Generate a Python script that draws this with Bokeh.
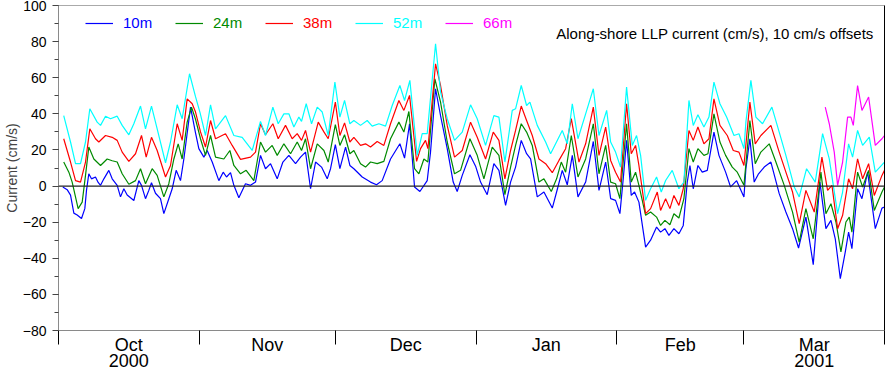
from datetime import date
from bokeh.plotting import figure
from bokeh.models import (Range1d, FixedTicker, SingleIntervalTicker, LinearAxis, Span,
                          Legend, LegendItem, Label)
from bokeh.embed import file_html
from bokeh.resources import INLINE

FONT = "Liberation Sans"

# x = days since 1 Oct 2000; values in cm/s (already including the 10 cm/s offsets)
day10 = [0.95, 1.91, 2.65, 3.38, 4.11, 5.07, 5.8, 6.17, 6.68, 7.27,
         8.15, 8.74, 9.26, 10.0, 11.09, 11.83, 12.93, 13.66, 14.4, 15.13,
         16.6, 17.7, 18.29, 19.17, 19.9, 20.49, 21.37, 22.47, 23.21, 24.31,
         25.05, 25.93, 26.88, 27.62, 29.09, 30.19, 30.92, 32.03, 32.76, 33.87,
         35.33, 36.29, 37.02, 37.9, 38.64, 39.74, 41.2, 42.31, 43.41, 44.51,
         45.61, 46.72, 48.19, 49.44, 50.76, 52.23, 53.33, 54.43, 55.54, 56.64,
         57.96, 59.21, 59.94, 61.0, 62.0, 63.25, 64.2, 65.08, 66.92, 68.75,
         70.07, 71.32, 73.16, 75.22, 76.25, 77.35, 78.45, 79.63, 81.24, 81.97,
         83.08, 84.18, 85.65, 86.97, 87.85, 88.96, 90.65, 91.9, 93.0, 94.46,
         95.93, 97.04, 98.51, 99.61, 100.71, 101.96, 103.14, 104.02, 105.49, 106.96,
         108.8, 109.75, 111.0, 112.1, 113.21, 114.46, 116.15, 117.84, 119.09, 120.56,
         121.66, 122.74, 123.7, 124.43, 125.17, 126.2, 126.93, 127.89, 129.36, 130.46,
         131.78, 132.66, 133.62, 134.5, 135.6, 136.7, 137.66, 138.54, 139.13, 139.86,
         140.89, 141.84, 142.95, 144.42, 145.52, 146.99, 148.09, 149.42, 151.03, 151.46,
         152.34, 153.29, 154.25, 155.5, 156.97, 158.8, 160.27, 161.74, 163.06, 164.68,
         166.3, 167.77, 169.09, 170.2, 171.15, 172.26, 173.36, 174.09, 174.82, 176.07,
         177.03, 178.28, 179.97, 181.44, 182.0]
cur10 = [-0.5, -2, -5, -15, -16, -18, -12.5, -2.4, 6.8, 4,
         5, 2, 0.4, 4, 8.7, 4, 0.4, -6, -1.5, -5,
         -8, 3, 0.4, -7, -2.4, 1.8, -4, -7, -15.3, -7,
         -1.5, 8.7, 3, 15, 43.7, 29.5, 20.7, 16, 19.7, 13.3,
         3, 7.7, 5, 7.4, 0.4, -6.5, 1.3, 0.4, 2.2, 17,
         9.6, 12.4, 4, 13.3, 17, 12.4, 16, 18.8, -1.5, 13.3,
         10.5, 4, 9.6, 22.9, 9.6, 21.6, 11.4, 9.6, 5, 2.2,
         0.7, 3, 15, 23.4, 15.5, 34.5, -0.5, -3, 3, 18.8,
         53.9, 39, 20.7, 2.2, -3, 5.9, 17.3, 11, 2.2, -4.8,
         12.4, 8.7, -10.7, 2.2, 10.5, 25.3, 17.9, 15, -6, -3.3,
         -12.2, -3.3, 8.7, 0.7, 17, -6, 2.2, 24.7, -2.4, 13.3,
         -7, -7.9, -15.3, 4, 25.3, -5.2, -3.3, -8.9, -33.8, -30,
         -22.7, -25.5, -23.6, -27.3, -23.6, -26.4, -21.8, 2.2, 11.4, -1.5,
         11.4, 7.7, 8.7, 29.9, 17, 7.7, -0.5, 3, -6, 9.6,
         26.2, 2.2, 6.8, 10.5, 13.3, -4.2, -14.4, -23.6, -34.3, -17.2,
         -43.5, 2.2, -23.6, -19, -29.2, -51.3, -36.5, -25.5, -34.7, -1.5,
         -7, 7.7, -23.6, -12.2, -11.6]

day24 = [1.15, 2.28, 3.01, 4.33, 5.22, 5.95, 6.68, 7.79, 9.26, 10.72,
         11.83, 12.93, 14.03, 15.5, 16.97, 18.07, 19.17, 20.64, 21.74, 23.21,
         24.31, 25.42, 26.37, 27.25, 28.35, 29.31, 30.19, 31.29, 32.39, 33.5,
         34.6, 36.44, 37.76, 38.64, 40.11, 41.35, 43.04, 44.51, 45.61, 47.08,
         48.19, 49.66, 51.13, 52.6, 53.55, 54.43, 55.54, 57.01, 58.48, 59.43,
         61.0, 62.0, 63.03, 64.2, 65.08, 66.55, 67.65, 68.75, 70.22, 71.69,
         73.16, 75.0, 76.1, 77.2, 78.45, 79.41, 80.51, 81.39, 82.93, 84.18,
         85.65, 87.26, 88.59, 90.65, 92.26, 93.73, 95.57, 97.04, 98.36, 99.61,
         100.71, 101.96, 103.14, 104.39, 105.86, 106.96, 108.58, 109.75, 110.78, 111.74,
         112.99, 114.46, 116.15, 117.84, 119.09, 120.56, 121.66, 122.74, 123.7, 125.17,
         126.2, 127.15, 127.89, 129.36, 130.46, 131.78, 132.66, 133.62, 134.72, 135.6,
         136.7, 137.8, 138.91, 139.86, 140.89, 142.21, 143.1, 144.42, 145.74, 146.99,
         148.46, 149.56, 151.03, 152.34, 153.52, 154.76, 156.6, 158.07, 159.91, 161.74,
         163.21, 164.68, 166.3, 167.99, 169.09, 170.2, 171.3, 172.4, 173.5, 174.24,
         174.82, 176.07, 177.18, 178.5, 179.75, 181.44, 182.0]
cur24 = [13.3, 7.7, 2.2, -12.5, -8.9, 5.9, 21.6, 15, 11.4, 15,
         14, 13.3, 6.8, 1, 3, 9.6, 1.3, 9.6, 5.9, -6,
         1.3, 15, 23.4, 15, 35.4, 43.7, 37, 26.2, 17, 28,
         16, 15, 19.7, 11.4, 6.8, 8.7, 3, 24.4, 18.8, 22.5,
         17, 23.4, 17.9, 24.4, 19.7, 26.2, 9.6, 23.4, 19.7, 13.3,
         34, 22.5, 28.4, 17.9, 19.7, 12.4, 10.5, 13.3, 12.4, 13.7,
         26.2, 35.4, 29.9, 41.3, 9.6, 6.8, 15, 13.3, 59.4, 46.5,
         24.4, 6.8, 8.7, 26.2, 17, 4, 21.6, 17, -4.8, 10.5,
         22.5, 34.5, 29.9, 22.5, 2.2, 4, -3, 4, 13.3, 7.7,
         28, 5, 15, 34.5, 6.8, 22.5, 2.2, 1.3, -7, 34.5,
         2.2, 7.7, 0.4, -16.2, -14.4, -17.2, -21.8, -19, -21.4, -15.3,
         -17.7, -7, 20.7, 13.3, 20.7, 17, 17.9, 40, 24.4, 17,
         10.5, 7.7, 0.4, 36.3, 12.4, 18.8, 23.4, 13.3, 0.4, -14.4,
         -31, -12.5, -29.2, 7.7, -15.3, -9.8, -19.9, -36.5, -19.9, -17.2,
         -25.5, 7.7, -0.5, 8.7, -13.5, -3.3, -0.5]

day38 = [1.15, 2.65, 3.75, 4.85, 5.95, 6.9, 8.15, 8.89, 10.36, 11.83,
         12.93, 14.03, 15.5, 16.97, 18.29, 19.32, 20.49, 21.74, 23.58, 24.68,
         26.15, 27.25, 28.35, 29.46, 30.19, 31.29, 32.39, 33.5, 34.6, 36.8,
         38.27, 40.11, 42.31, 43.41, 44.51, 45.61, 47.23, 48.41, 50.02, 51.49,
         52.6, 53.55, 54.43, 55.54, 57.23, 58.48, 59.43, 61.0, 62.0, 63.03,
         64.2, 65.08, 66.55, 67.65, 68.75, 70.22, 71.69, 73.16, 75.0, 76.1,
         77.35, 78.9, 79.77, 80.87, 81.39, 83.08, 84.18, 85.65, 87.26, 88.96,
         90.79, 92.26, 94.1, 95.79, 97.04, 98.36, 99.61, 100.71, 101.96, 103.14,
         104.39, 105.86, 107.33, 108.8, 110.27, 111.74, 112.99, 114.68, 116.15, 117.84,
         119.09, 120.56, 121.66, 122.74, 123.84, 125.17, 126.2, 127.15, 127.89, 129.36,
         130.46, 131.93, 132.66, 133.77, 134.72, 135.6, 136.7, 137.66, 138.91, 139.86,
         140.89, 142.21, 143.32, 144.42, 145.74, 147.36, 148.68, 149.93, 151.03, 152.34,
         153.52, 154.76, 156.97, 158.8, 160.27, 161.74, 163.21, 164.68, 166.52, 168.21,
         169.46, 170.42, 171.67, 172.77, 174.09, 174.97, 176.07, 177.18, 178.5, 179.75,
         181.44, 182.0]
cur38 = [26.2, 13.3, 3, 2.2, 13.3, 31.7, 26.2, 24.4, 28, 27,
         25.3, 18.8, 13.7, 17.9, 28, 16, 27, 19.7, 5, 11.4,
         34.5, 25.3, 48.3, 45.6, 41, 30, 21.6, 36.3, 26.2, 29,
         22.5, 14.8, 16, 18.8, 34.5, 28.4, 34.5, 26.2, 33.6, 26.2,
         29, 25.3, 30.8, 18.8, 35.4, 30, 26.2, 46.5, 28, 35,
         24.4, 27, 22.5, 23.4, 21.6, 24.7, 22.5, 34.5, 47.4, 41.9,
         50.2, 13.7, 20.7, 25.3, 20.7, 67.7, 55.7, 33.6, 16, 19.7,
         35.4, 27, 15, 29.9, 25.3, 4, 19.7, 30.8, 44.3, 36.3,
         28, 15, 12.4, 7.4, 14.2, 20.7, 37.3, 13.3, 23.4, 43.7,
         17, 32.7, 14.2, 7.7, 2.2, 45.6, 17.9, 22.5, 11.4, -15.3,
         -12.5, -3.3, -13.5, -7, -12.5, -5.2, -10.7, -1.5, 30.8, 25.3,
         32.7, 23.4, 26.2, 48.3, 33.6, 28, 19.7, 18.8, 11.4, 46.5,
         23.4, 28, 33.6, 18.8, 7.7, -3.3, -20.8, -2.4, -14.4, 16,
         -2.4, 0.4, -23.6, -16.2, 4, -1.5, 15.1, 4, 12.4, -5.2,
         5.9, 8.7]

day52 = [1.15, 2.65, 3.75, 4.85, 5.95, 6.9, 8.52, 9.26, 10.36, 11.46,
         12.93, 14.03, 15.5, 16.6, 18.07, 19.17, 20.49, 21.74, 23.58, 24.68,
         26.15, 27.25, 28.87, 30.19, 31.2, 32.39, 33.5, 34.6, 36.8, 38.64,
         40.47, 42.67, 44.51, 45.61, 47.23, 48.41, 49.66, 50.76, 51.86, 52.96,
         53.55, 54.58, 55.76, 57.01, 58.11, 59.43, 60.9, 62.0, 63.03, 64.2,
         65.08, 66.55, 68.02, 69.12, 70.59, 72.06, 73.53, 75.22, 76.25, 77.42,
         79.04, 80.14, 81.24, 83.08, 84.18, 85.65, 87.26, 88.96, 90.79, 92.26,
         94.1, 95.93, 97.04, 98.36, 99.98, 100.71, 101.96, 103.14, 103.87, 105.49,
         107.33, 108.43, 111.0, 112.1, 113.21, 114.46, 116.15, 117.84, 119.09, 120.78,
         121.66, 122.74, 123.84, 125.17, 126.42, 127.37, 128.26, 129.36, 130.46, 131.78,
         132.81, 133.77, 135.23, 136.7, 137.8, 138.91, 139.86, 140.89, 142.21, 143.32,
         144.42, 145.74, 147.21, 148.83, 149.93, 151.03, 151.46, 152.56, 153.66, 155.13,
         157.19, 158.8, 160.27, 162.11, 163.21, 164.83, 166.74, 168.36, 169.83, 171.67,
         172.77, 174.09, 174.97, 176.07, 177.18, 178.65, 179.97, 182.0]
cur52 = [39, 24.4, 12.4, 12.4, 24.4, 42.8, 35.4, 33.6, 38.7, 37.3,
         38.7, 33.6, 28.4, 34.5, 44.3, 31.7, 44.3, 31.7, 12.9, 24.4,
         45, 37.3, 62.2, 49.5, 40.5, 28, 45, 31.7, 39, 28,
         27, 19.7, 35.8, 28, 43.7, 34.5, 40, 40, 32.7, 38.2,
         35.8, 45.6, 34.5, 43.7, 41, 28, 57.6, 38.2, 47.4, 34.5,
         36.3, 33.6, 36.3, 33.2, 34.5, 33.2, 44.6, 55.7, 47.4, 58.5,
         17, 29, 29, 78.8, 52, 37.3, 25.3, 29.9, 45, 37.3,
         22.5, 39, 38.2, 13.3, 41.9, 42.8, 55.7, 44.6, 46.5, 33.6,
         24.4, 17.9, 30.8, 23.4, 45.6, 26.2, 40, 53.9, 28, 41.9,
         24.4, 18.8, 10.5, 54.8, 22.5, 28, 17, -7.9, -1.5, 5,
         -3.3, 3.1, 8.7, -1.5, 2.2, 47.4, 33.6, 39.5, 32.7, 38.2,
         57.6, 45.6, 38.2, 28, 29, 20.7, 35.4, 58.5, 38.2, 34.5,
         43.7, 29.9, 17, -0.5, -6, 9.6, 2.2, 29, 15.1, -15.3,
         -3.3, 23.4, 16, 30.8, 22.5, 27.1, 7.7, 13.3]

day66 = [168.95, 169.83, 170.93, 171.67, 172.77, 173.87, 174.6, 175.12, 176.07, 177.03,
         178.5, 179.97, 181.44, 182.0]
cur66 = [43.7, 34.5, 18.8, 0.4, 13.3, 38.2, 38.2, 33.6, 55.7, 41.9,
         49.3, 22.5, 26.2, 28]

series_names = ["10m", "24m", "38m", "52m", "66m"]
series_colors = ["#0000ff", "#008a00", "#ff0000", "#00ffff", "#ff00ff"]
series_days = [day10, day24, day38, day52, day66]
series_vals = [cur10, cur24, cur38, cur52, cur66]

start = date(2000, 10, 1)
month_firsts = [date(2000, 10, 1), date(2000, 11, 1), date(2000, 12, 1), date(2001, 1, 1),
                date(2001, 2, 1), date(2001, 3, 1), date(2001, 4, 1)]
month_labels = ["Oct", "Nov", "Dec", "Jan", "Feb", "Mar"]
year_labels = {0: "2000", 5: "2001"}   # month index -> year printed below it
month_edges = [(d - start).days for d in month_firsts]
month_mids = [(a + b) / 2.0 for a, b in zip(month_edges[:-1], month_edges[1:])]

title_text = "Along-shore LLP current (cm/s), 10 cm/s offsets"

Y0, Y1 = -80, 100
FRAME_H = 372 - 5 - 42

p = figure(width=885, height=372,
           x_range=Range1d(month_edges[0], month_edges[-1]), y_range=Range1d(Y0, Y1),
           output_backend="svg", toolbar_location=None,
           min_border_left=58, min_border_right=1, min_border_top=5, min_border_bottom=42,
           outline_line_color=None, background_fill_color="white", border_fill_color="white")
p.xgrid.visible = False
p.ygrid.visible = False

xa = p.xaxis[0]
xa.ticker = FixedTicker(ticks=month_mids, minor_ticks=month_edges)
xa.major_label_overrides = {m: lab for m, lab in zip(month_mids, month_labels)}
xa.major_tick_out = 0
xa.major_tick_in = 0
xa.minor_tick_out = 14
xa.minor_tick_in = 0
xa.minor_tick_line_color = "black"
xa.axis_line_color = "#8a8a8a"
xa.major_label_standoff = -10
xa.major_label_text_font = FONT
xa.major_label_text_font_size = "18px"
xa.major_label_text_color = "black"

# second row of x labels: the years under Oct and Mar
year_ticks = [month_mids[i] for i in year_labels]
year_ax = LinearAxis(ticker=FixedTicker(ticks=year_ticks, minor_ticks=[]),
                     major_label_overrides={month_mids[i]: yr for i, yr in year_labels.items()},
                     axis_line_color=None, major_tick_out=0, major_tick_in=0,
                     minor_tick_out=0, minor_tick_in=0, major_label_standoff=-4,
                     major_label_text_font=FONT, major_label_text_font_size="18px",
                     major_label_text_color="black")
p.add_layout(year_ax, "below")

ya = p.yaxis[0]
ya.ticker = SingleIntervalTicker(interval=20, num_minor_ticks=2)
ya.axis_label = "Current (cm/s)"
ya.axis_label_text_font = FONT
ya.axis_label_text_font_style = "normal"
ya.axis_label_text_font_size = "14px"
ya.axis_label_standoff = 0
ya.major_label_text_font = FONT
ya.major_label_text_font_size = "14px"
ya.major_label_text_color = "black"
ya.major_label_standoff = 6
ya.major_tick_out = 6
ya.major_tick_in = 0
ya.minor_tick_out = 4
ya.minor_tick_in = 0
ya.major_tick_line_color = "#444444"
ya.minor_tick_line_color = "#444444"
ya.axis_line_color = "#8a8a8a"

right_ax = LinearAxis(ticker=FixedTicker(ticks=[]), axis_line_color="black",
                      major_label_text_font_size="0px", major_tick_out=0, minor_tick_out=0)
p.add_layout(right_ax, "right")
top_ax = LinearAxis(ticker=FixedTicker(ticks=[]), axis_line_color="#aaaaaa",
                    major_label_text_font_size="0px", major_tick_out=0, minor_tick_out=0)
p.add_layout(top_ax, "above")

p.add_layout(Span(location=0, dimension="width", line_color="#222222", line_width=1.3))

renderers = []
for d, v, c in zip(series_days, series_vals, series_colors):
    renderers.append(p.line(d, v, line_color=c, line_width=1.2))

leg_x = [27, 117, 207, 297, 387]
for name, c, r, lx in zip(series_names, series_colors, renderers, leg_x):
    lg = Legend(items=[LegendItem(label=name, renderers=[r])], location=(lx, FRAME_H - 26),
                orientation="horizontal", background_fill_alpha=0, border_line_color=None,
                label_text_color=c, label_text_font=FONT, label_text_font_size="15px",
                glyph_width=28, glyph_height=16, label_height=16, label_standoff=10,
                padding=0, margin=0, spacing=0)
    p.add_layout(lg)

p.add_layout(Label(x=month_edges[-1] - 2.4, y=84.4, text=title_text, text_align="right",
                   text_baseline="middle", text_font=FONT, text_font_size="15px",
                   text_color="black"))

open("out.html", "w").write(file_html(p, INLINE))
